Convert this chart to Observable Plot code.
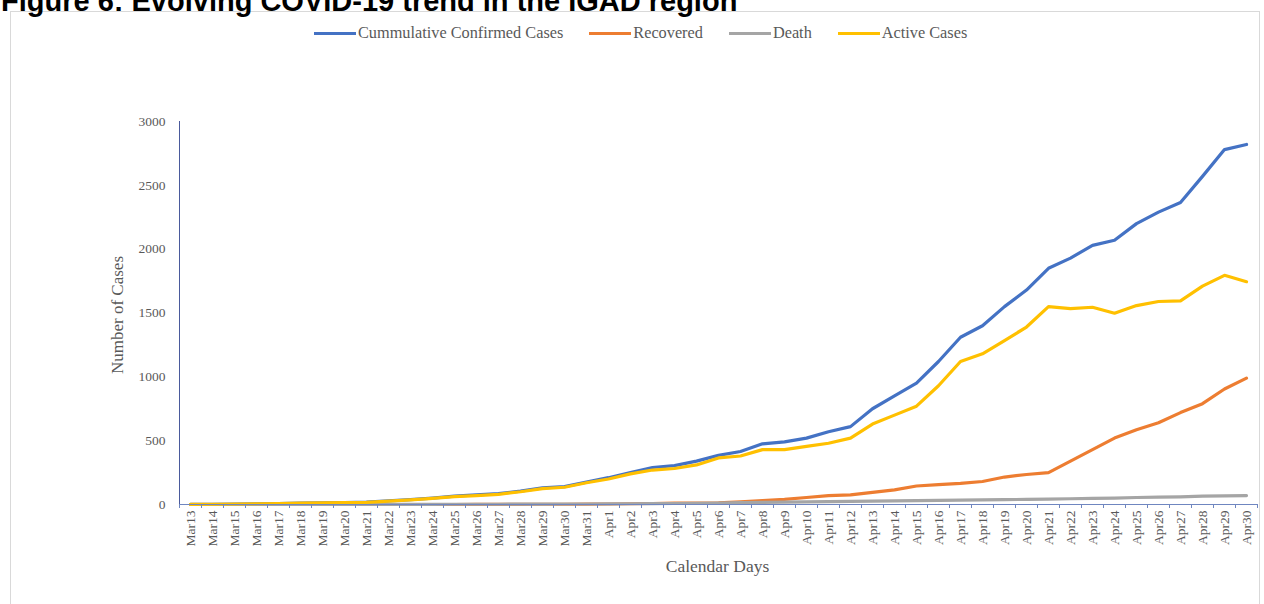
<!DOCTYPE html>
<html>
<head>
<meta charset="utf-8">
<script src="https://cdn.jsdelivr.net/npm/d3@7"></script>
<script src="https://cdn.jsdelivr.net/npm/@observablehq/plot@0.6"></script>
<style>
  html, body { margin: 0; padding: 0; background: #fff; width: 1264px; height: 604px; overflow: hidden; }
  #title { position: absolute; left: 1px; top: -15px; font: bold 29px "Liberation Sans", Arial, sans-serif; color: #000; white-space: nowrap; }
  #frame { position: absolute; left: 10px; top: 11px; width: 1250px; height: 600px; border: 1px solid #d9d9d9; box-sizing: border-box; }
  #chart { position: absolute; left: 0; top: 0; }
  #legend { position: absolute; top: 23px; left: 314px; display: flex; align-items: center; font: 16.3px "Liberation Serif", "Times New Roman", serif; color: #595959; white-space: nowrap; }
  .item { display: flex; align-items: center; margin-right: 26px; }
  .sw { width: 42px; height: 3px; margin-right: 2px; }
</style>
</head>
<body>
<div id="frame"></div>
<div id="chart"></div>
<div id="title">Figure 6: Evolving COVID-19 trend in the IGAD region</div>
<div id="legend"></div>
<script>
const days = ["Mar13","Mar14","Mar15","Mar16","Mar17","Mar18","Mar19","Mar20","Mar21","Mar22","Mar23","Mar24","Mar25","Mar26","Mar27","Mar28","Mar29","Mar30","Mar31",
  "Apr1","Apr2","Apr3","Apr4","Apr5","Apr6","Apr7","Apr8","Apr9","Apr10","Apr11","Apr12","Apr13","Apr14","Apr15","Apr16","Apr17","Apr18","Apr19","Apr20",
  "Apr21","Apr22","Apr23","Apr24","Apr25","Apr26","Apr27","Apr28","Apr29","Apr30"];
const confirmed = [1,2,4,6,8,10,12,14,18,28,38,50,65,75,85,105,130,140,175,
  210,250,290,305,340,385,415,475,490,520,570,610,750,850,950,1120,1310,1400,1550,1680,
  1850,1930,2030,2070,2200,2290,2365,2570,2780,2820];
const recovered = [0,0,0,0,0,0,0,0,0,0,0,0,0,1,1,1,2,2,3,
  4,6,8,10,11,13,20,30,40,55,70,75,95,115,145,155,165,180,215,235,
  250,340,430,520,585,640,720,790,905,990];
const deaths = [0,0,0,0,0,0,0,0,1,1,1,1,2,2,2,3,3,4,4,
  5,6,7,8,9,11,14,16,18,20,22,24,26,28,30,32,34,36,38,40,
  42,45,48,50,55,58,60,65,68,70];
const active = [1,2,4,6,8,10,12,14,17,26,36,48,62,70,80,100,125,135,170,
  200,240,270,282,310,365,380,430,430,455,480,520,630,700,770,930,1120,1180,1284,1390,
  1550,1535,1545,1498,1558,1590,1595,1710,1795,1745];
const seriesNames = ["Cummulative Confirmed Cases","Recovered","Death","Active Cases"];
const seriesColors = ["#4472C4","#ED7D31","#A5A5A5","#FFC000"];
const yTicks = [0,500,1000,1500,2000,2500,3000];

const seriesValues = [confirmed, recovered, deaths, active];
const rows = [];
seriesNames.forEach((s, k) => days.forEach((d, i) => rows.push({series: s, day: d, value: seriesValues[k][i]})));

const serif = '"Liberation Serif", "Times New Roman", serif';
const chart = Plot.plot({
  width: 1264, height: 604,
  marginTop: 121, marginBottom: 100, marginLeft: 179, marginRight: 7,
  style: {fontFamily: serif, background: "transparent", color: "#595959"},
  x: {type: "point", domain: days, padding: 0.5, label: null},
  y: {domain: [0, 3000], label: null},
  color: {domain: seriesNames, range: seriesColors},
  marks: [
    Plot.axisY({ticks: yTicks, tickFormat: d => String(d), tickSize: 0, tickPadding: 14, fontSize: 13.5, fill: "#595959", label: null}),
    Plot.axisX({tickSize: 0, tickPadding: 6, tickRotate: -90, fontSize: 13.5, fill: "#595959", label: null}),
    Plot.text(["Number of Cases"], {frameAnchor: "left", textAnchor: "middle", dx: -62, dy: 2, rotate: -90, fontSize: 17, fill: "#595959"}),
    Plot.text(["Calendar Days"], {frameAnchor: "bottom", dy: 67, dx: -1, fontSize: 17.5, fill: "#595959"}),
    Plot.line(rows, {x: "day", y: "value", z: "series", stroke: "series", strokeWidth: 3.2, strokeLinejoin: "round", strokeLinecap: "round"}),
    Plot.frame({anchor: "left", stroke: "#4a5a9c", strokeWidth: 1}),
    Plot.frame({anchor: "bottom", stroke: "#6f86c0", strokeWidth: 1}),
    Plot.ruleX(days, {x: d => d, y1: 0, y2: 0, dx: -11, insetBottom: -4, stroke: "#6f86c0"}),
    Plot.ruleX(days.slice(-1), {x: d => d, y1: 0, y2: 0, dx: 11, insetBottom: -4, stroke: "#6f86c0"})
  ]
});
document.getElementById("chart").appendChild(chart);

const legend = document.getElementById("legend");
seriesNames.forEach((s, i) => {
  const it = document.createElement("div");
  it.className = "item";
  const sw = document.createElement("div");
  sw.className = "sw";
  sw.style.background = seriesColors[i];
  const tx = document.createElement("span");
  tx.textContent = s;
  it.appendChild(sw); it.appendChild(tx);
  legend.appendChild(it);
});
</script>
</body>
</html>
